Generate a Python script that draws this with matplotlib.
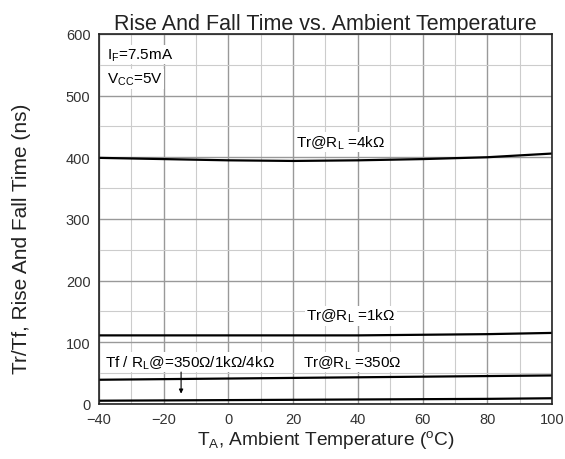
import matplotlib
matplotlib.use("Agg")
import matplotlib.pyplot as plt
import numpy as np

plt.rcParams['font.family'] = ['Liberation Sans', 'DejaVu Sans']
plt.rcParams['mathtext.default'] = 'regular'

temp = [-40, -20, 0, 20, 40, 60, 80, 100]
tr_4k = [399, 397, 395, 394, 395, 397, 400, 406]
tr_1k = [111, 111, 111, 111, 111, 112, 113, 115]
tr_350 = [39, 40, 41, 42, 43, 44, 45, 46]
tf_all = [5, 5.5, 6, 6.5, 7, 7.5, 8, 9]

fig = plt.figure(figsize=(5.65, 4.6), dpi=100)
ax = fig.add_axes([0.175, 0.12, 0.802, 0.804])

ax.set_xlim(-40, 100)
ax.set_ylim(0, 600)
ax.set_xticks(np.arange(-40, 101, 20))
ax.set_yticks(np.arange(0, 601, 100))
ax.set_xticks(np.arange(-40, 101, 10), minor=True)
ax.set_yticks(np.arange(0, 601, 50), minor=True)
ax.grid(which='major', color='#999999', lw=1.0)
ax.grid(which='minor', color='#cccccc', lw=0.8)
ax.tick_params(which='both', length=0, labelsize=10.5, colors='#333333', pad=6)
for s in ax.spines.values():
    s.set_color('#222222')
    s.set_linewidth(1.2)

for series in (tr_4k, tr_1k, tr_350, tf_all):
    ax.plot(temp, series, color='black', lw=1.6)

ax.set_title('Rise And Fall Time vs. Ambient Temperature', fontsize=15.5, pad=3,
             color='#222222')
ax.set_xlabel(r'T$_A$, Ambient Temperature ($^o$C)', fontsize=13.8, labelpad=1,
              color='#222222')
ax.set_ylabel('Tr/Tf, Rise And Fall Time (ns)', fontsize=15, color='#222222')
ax.yaxis.set_label_coords(-0.15, 0.45)

bb = dict(facecolor='white', edgecolor='none', pad=1)
fs = 11
ax.text(-37.5, 567, r'I$_F$=7.5mA', fontsize=fs, va='center', bbox=bb)
ax.text(-37.5, 527, r'V$_{CC}$=5V', fontsize=fs, va='center', bbox=bb)
ax.text(21, 425, r'Tr@R$_L$ =4kΩ', fontsize=fs, va='center', bbox=bb)
ax.text(24, 143, r'Tr@R$_L$ =1kΩ', fontsize=fs, va='center', bbox=bb)
ax.text(23, 68, r'Tr@R$_L$ =350Ω', fontsize=fs, va='center', bbox=bb)
ax.text(-38, 68, r'Tf / R$_L$@=350Ω/1kΩ/4kΩ', fontsize=fs, va='center', bbox=bb)
ax.annotate('', xy=(-14.6, 12), xytext=(-14.6, 56),
            arrowprops=dict(arrowstyle='-|>', color='black', lw=0.8, mutation_scale=6))

fig.savefig('out.png', dpi=100)
